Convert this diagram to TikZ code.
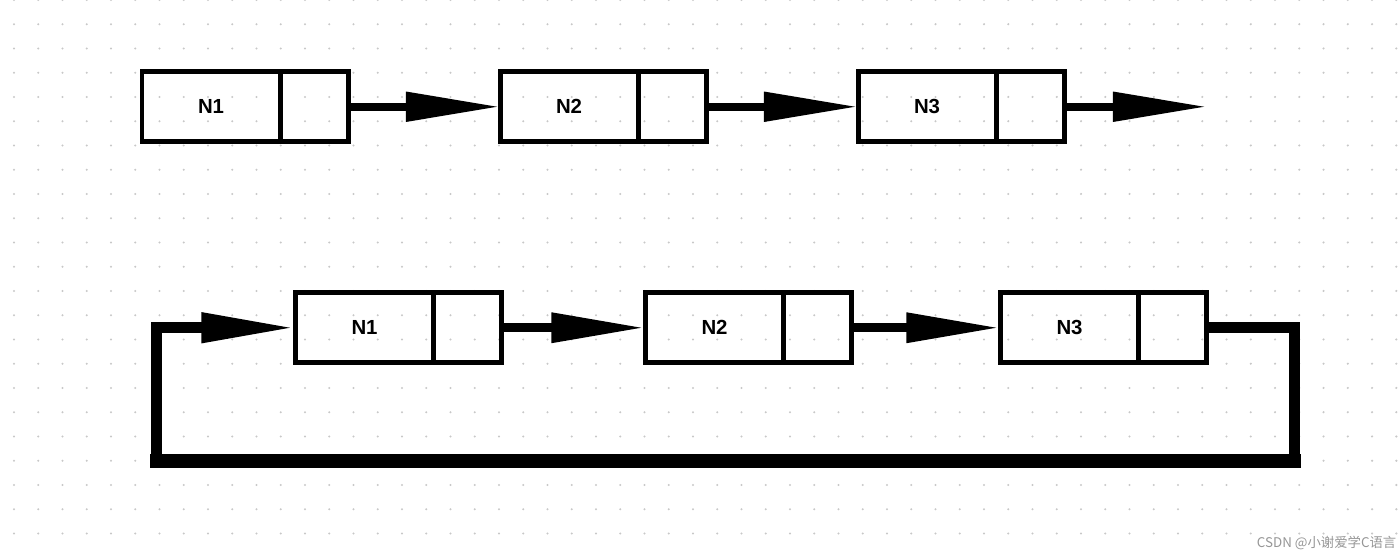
\documentclass[tikz,border=0pt]{standalone}
\usepackage{fontspec}
\setmainfont{Liberation Sans}
\newfontfamily\cjkfont{Noto Sans CJK SC}
\usetikzlibrary{positioning,arrows.meta}

\definecolor{dotgray}{RGB}{200,200,200}
\definecolor{markgray}{RGB}{150,150,150}

\tikzset{
  cell/.style={draw, line width=1.42pt, minimum height=0.695cm, inner sep=0pt, outer sep=0pt,
    font=\fontsize{5.8}{6}\selectfont\bfseries},
  datacell/.style={cell, minimum width=1.38cm},
  ptrcell/.style={cell, minimum width=0.68cm},
  link/.style={line width=2.3pt, -{Triangle[length=0.94cm, width=0.28cm]}},
  backlink/.style={line width=3pt, line join=miter, -{Triangle[length=0.94cm, width=0.28cm]}}
}

\begin{document}
\begin{tikzpicture}[x=0.01cm, y=-0.01cm]
	\useasboundingbox (0,0) rectangle (1400,555);

	% 点阵背景
	\foreach \i in {0,...,57}
		\foreach \j in {0,...,22}
			\fill[dotgray] (14+24.25*\i, 24.25*\j) circle (0.35pt);

	% 单链表
	\node[datacell, anchor=west] (a1) at (142,106.75) {N1};
	\node[ptrcell, right=0pt of a1] (a1p) {};
	\node[datacell, anchor=west] (a2) at (500,106.75) {N2};
	\node[ptrcell, right=0pt of a2] (a2p) {};
	\node[datacell, anchor=west] (a3) at (858,106.75) {N3};
	\node[ptrcell, right=0pt of a3] (a3p) {};
	\coordinate (aend) at (1207,106.75);

	\draw[link] (a1p.east) -- (a2.west);
	\draw[link] (a2p.east) -- (a3.west);
	\draw[link] (a3p.east) -- (aend);

	% 循环链表
	\node[datacell, anchor=west] (b1) at (295.5,327.75) {N1};
	\node[ptrcell, right=0pt of b1] (b1p) {};
	\node[datacell, anchor=west] (b2) at (645.5,327.75) {N2};
	\node[ptrcell, right=0pt of b2] (b2p) {};
	\node[datacell, anchor=west] (b3) at (1000.5,327.75) {N3};
	\node[ptrcell, right=0pt of b3] (b3p) {};
	\coordinate (loopR) at (1294.5,461);
	\coordinate (loopL) at (156.5,461);

	\draw[link, line width=2.7pt] (b1p.east) -- (b2.west);
	\draw[link, line width=2.7pt] (b2p.east) -- (b3.west);
	\draw[backlink] (b3p.east) -| (loopR) -- (loopL) |- (b1.west);
	\draw[line width=3.7pt, line cap=rect] (loopL) -- (loopR);

	% 水印
	\node[text=markgray, font=\cjkfont\fontsize{3.8}{4}\selectfont, inner sep=0pt, anchor=east] (mark) at (1397,543) {CSDN @小谢爱学C语言};
\end{tikzpicture}
\end{document}
